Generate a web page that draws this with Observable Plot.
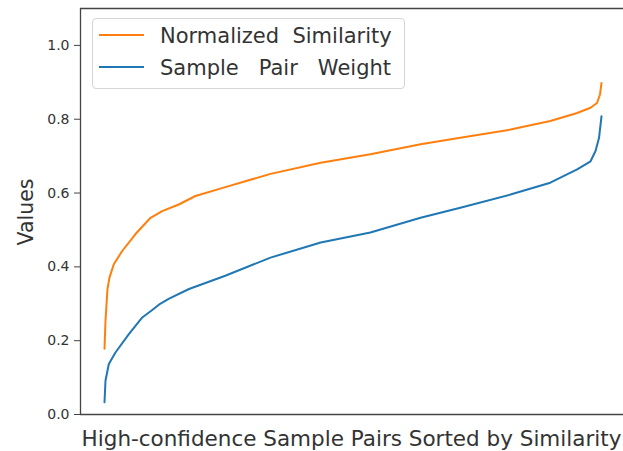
<!DOCTYPE html>
<html><head><meta charset="utf-8">
<script src="https://cdn.jsdelivr.net/npm/d3@7"></script>
<script src="https://cdn.jsdelivr.net/npm/@observablehq/plot@0.6"></script>
<style>
body{margin:0;background:#fff;}
#wrap{position:relative;width:623px;height:451px;overflow:hidden;font-family:"DejaVu Sans",sans-serif;}
#legend{position:absolute;left:92px;top:18px;width:313px;height:71px;box-sizing:border-box;border:1px solid #d6d6d6;border-radius:4px;background:rgba(255,255,255,0.85);}
.item{position:absolute;left:0;top:0;width:100%;height:100%;}
.swatch{position:absolute;left:6px;width:45px;height:0;border-top:2px solid;}
.lab{position:absolute;left:67px;font-size:21px;color:#333;white-space:pre;line-height:1;}
</style></head>
<body><div id="wrap"><div id="chart"></div>
<div id="legend"></div></div>
<script>
const seriesNames = ["Normalized Similarity", "Sample Pair Weight"];
const seriesColors = ["#ff7f0e", "#1f77b4"];
const legendLabels = ["Normalized  Similarity", "Sample   Pair   Weight"];
const yTicks = [0.0, 0.2, 0.4, 0.6, 0.8, 1.0];
const yDomain = [0, 1.1];
const xDomain = [-4.83, 104.43];
const xTitle = "High-confidence Sample Pairs Sorted by Similarity";
const yTitle = "Values";

// rank = position in the sorted list (percent of pairs)
const simRank  = [0, 0.2, 0.6, 1.0, 1.87, 3.56, 6.24, 9.26, 11.6, 14.95, 18.3, 24.3, 33.4, 43.5, 53.5, 63.6, 71.6, 81.7, 89.7, 95.1, 97.8, 99.1, 99.7, 100];
const simValue = [0.178, 0.254, 0.34, 0.371, 0.407, 0.443, 0.489, 0.533, 0.551, 0.569, 0.592, 0.616, 0.652, 0.682, 0.705, 0.732, 0.750, 0.772, 0.795, 0.817, 0.831, 0.844, 0.867, 0.898];
const wRank  = [0, 0.2, 0.87, 2.2, 4.9, 7.6, 9.6, 11.2, 12.9, 17.0, 24.3, 33.4, 43.5, 53.5, 63.6, 71.6, 81.7, 89.7, 95.1, 97.8, 98.8, 99.5, 100];
const wValue = [0.033, 0.092, 0.137, 0.168, 0.218, 0.263, 0.283, 0.300, 0.313, 0.340, 0.376, 0.425, 0.466, 0.493, 0.533, 0.560, 0.596, 0.628, 0.664, 0.686, 0.714, 0.749, 0.808];

const sim = simRank.map((r, i) => ({rank: r, value: simValue[i]}));
const wt = wRank.map((r, i) => ({rank: r, value: wValue[i]}));

const plot = Plot.plot({
  width: 623, height: 451,
  marginTop: 8, marginBottom: 37, marginLeft: 80, marginRight: 0,
  style: {fontFamily: "DejaVu Sans, sans-serif", fontSize: "14px", color: "#333", background: "white"},
  x: {domain: xDomain, axis: null},
  y: {domain: yDomain, axis: null},
  marks: [
    Plot.axisY({ticks: yTicks, tickFormat: d3.format(".1f"), tickSize: 6, tickPadding: 5, label: null, fontSize: 14, stroke: "#444", fill: "#333"}),
    Plot.line(wt, {x: "rank", y: "value", stroke: seriesColors[1], strokeWidth: 2}),
    Plot.line(sim, {x: "rank", y: "value", stroke: seriesColors[0], strokeWidth: 2}),
    Plot.ruleY(yDomain, {stroke: "#444", strokeWidth: 1.3}),
    Plot.ruleX([xDomain[0]], {stroke: "#444", strokeWidth: 1.3})
  ]
});
document.getElementById("chart").appendChild(plot);
const svg = d3.select(plot);
svg.append("text").attr("x", 351.5).attr("y", 446).attr("text-anchor", "middle")
  .attr("font-size", 21.5).attr("fill", "#333").text(xTitle);
svg.append("text").attr("transform", "translate(33,212) rotate(-90)").attr("text-anchor", "middle")
  .attr("font-size", 20.5).attr("fill", "#333").text(yTitle);

const legend = document.getElementById("legend");
seriesNames.forEach((n, i) => {
  const it = document.createElement("div");
  it.className = "item";
  it.innerHTML = `<div class="swatch" style="top:${15 + 32 * i}px;border-color:${seriesColors[i]}"></div><div class="lab" style="top:${6.5 + 32 * i}px">${legendLabels[i]}</div>`;
  legend.appendChild(it);
});
</script>
</body></html>
